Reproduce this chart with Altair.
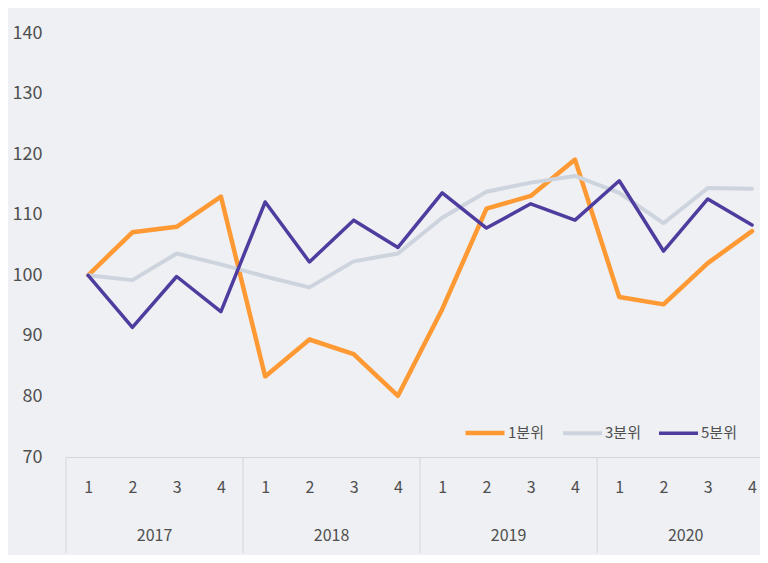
import altair as alt
import pandas as pd

years = ["2017", "2018", "2019", "2020"]
quarters = ["1", "2", "3", "4"]
series = ["1분위", "3분위", "5분위"]
q1_vals = [100, 107.1, 108, 113, 83.3, 89.4, 87, 80.1, 94.4, 111, 113.1, 119.1, 96.4, 95.2, 102, 107.3]
q3_vals = [100, 99.2, 103.6, 101.8, 99.8, 98, 102.3, 103.6, 109.5, 113.8, 115.3, 116.4, 113.6, 108.6, 114.4, 114.3]
q5_vals = [100, 91.4, 99.8, 94.0, 112.1, 102.2, 109.1, 104.6, 113.6, 107.8, 111.8, 109.1, 115.6, 104, 112.6, 108.3]
colors = ["#FF9933", "#CDD4DD", "#4E3D9E"]
widths = [4.5, 3.5, 4.5]

FONT = "Noto Sans CJK KR"
TXT = "#4F4F4F"
LINE_GRAY = "#D3D5DA"

rows = []
for s, vals in zip(series, [q1_vals, q3_vals, q5_vals]):
    for i, v in enumerate(vals):
        rows.append({"idx": i, "year": years[i // 4], "quarter": quarters[i % 4], "series": s, "value": v})
df = pd.DataFrame(rows)

n = len(years) * len(quarters)
year_df = pd.DataFrame({
    "year": years,
    "center": [k * 4 + 1.5 for k in range(len(years))],
})
sep_df = pd.DataFrame({"pos": [k * 4 - 0.5 for k in range(len(years) + 1)]})

xscale = alt.Scale(domain=[-0.5, 15.18], nice=False, zero=False)
yscale = alt.Scale(domain=[70, 140], nice=False, zero=False)

label_expr = "[" + ",".join("'%s'" % q for q in quarters) + "][datum.value % 4]"

lines = alt.Chart(df).mark_line(strokeCap="round", strokeJoin="round").encode(
    x=alt.X("idx:Q", scale=xscale,
            axis=alt.Axis(values=list(range(n)), labelExpr=label_expr, title=None,
                          ticks=False, grid=False, domain=True, domainColor=LINE_GRAY,
                          domainWidth=1, labelFlush=False, labelOverlap=False,
                          labelPadding=22, labelFontSize=16, labelColor=TXT, labelFont=FONT)),
    y=alt.Y("value:Q", scale=yscale,
            axis=alt.Axis(values=list(range(70, 141, 10)), title=None, ticks=False, tickSize=0,
                          grid=False, domain=False, labelPadding=24, labelFontSize=18,
                          labelColor=TXT, labelFont=FONT, labelFlush=False)),
    color=alt.Color("series:N", scale=alt.Scale(domain=series, range=colors),
                    legend=alt.Legend(title=None, orient="none", legendX=397, legendY=378,
                                      direction="horizontal", symbolType="stroke",
                                      symbolSize=1521, symbolStrokeWidth=4,
                                      labelFontSize=15, labelColor=TXT, labelFont=FONT,
                                      labelOffset=1, columnPadding=11, padding=0)),
    strokeWidth=alt.StrokeWidth("series:N", scale=alt.Scale(domain=series, range=widths), legend=None),
    order="idx:Q",
)

seps = alt.Chart(sep_df).mark_rule(color=LINE_GRAY, strokeWidth=1).encode(
    x=alt.X("pos:Q", scale=xscale),
    y=alt.value(424),
    y2=alt.value(520),
)

year_text = alt.Chart(year_df).mark_text(font=FONT, fontSize=16, color=TXT, baseline="middle").encode(
    x=alt.X("center:Q", scale=xscale),
    y=alt.value(503),
    text="year:N",
)

chart = alt.layer(seps, lines, year_text).properties(
    width=694,
    height=424,
    background="#EEF0F4",
    padding={"left": 58, "top": 25, "right": 0, "bottom": 98},
    autosize=alt.AutoSizeParams(type="none"),
).configure_view(strokeWidth=0)

chart.save("out.html", embed_options={"renderer": "svg", "actions": False})
